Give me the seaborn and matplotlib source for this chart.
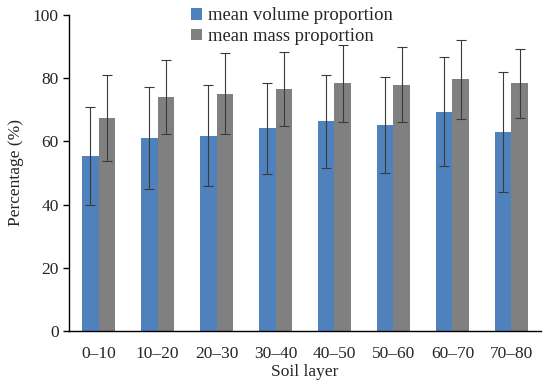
import numpy as np
import pandas as pd
import seaborn as sns
import matplotlib.pyplot as plt

# soil layers and the two proportions (mean and sd, %)
layers = ['0–10', '10–20', '20–30', '30–40', '40–50', '50–60', '60–70', '70–80']
vol_mean = [55.4, 61.1, 61.8, 64.1, 66.4, 65.2, 69.4, 63.1]
vol_sd = [15.5, 16.2, 15.9, 14.4, 14.7, 15.3, 17.2, 19.0]
mass_mean = [67.4, 74.1, 75.1, 76.6, 78.4, 78.0, 79.6, 78.4]
mass_sd = [13.5, 11.8, 12.8, 11.7, 12.2, 11.8, 12.6, 10.9]
series = ['mean volume proportion', 'mean mass proportion']
colors = ['#4F81BD', '#808080']

df = pd.DataFrame({
    'layer': layers * 2,
    'value': vol_mean + mass_mean,
    'sd': vol_sd + mass_sd,
    'series': [series[0]] * len(layers) + [series[1]] * len(layers),
})

sns.set_style('white')
plt.rcParams['font.family'] = ['Liberation Serif', 'DejaVu Serif']

fig = plt.figure(figsize=(5.5, 3.91), dpi=100)
ax = fig.add_axes([0.1255, 0.1535, 0.8581, 0.8081])

sns.barplot(data=df, x='layer', y='value', hue='series', palette=colors,
            width=0.57, errorbar=None, saturation=1, linewidth=0, ax=ax)

# error bars, one per bar, placed at the bar centres
for cont, sds in zip(ax.containers, [vol_sd, mass_sd]):
    xs = [p.get_x() + p.get_width() / 2 for p in cont.patches]
    ys = [p.get_height() for p in cont.patches]
    ax.errorbar(xs, ys, yerr=sds, fmt='none', ecolor='#3a3a3a',
                elinewidth=0.8, capsize=3.5, capthick=0.8)

ax.set_xlim(-0.5, len(layers) - 0.5)
ax.set_ylim(0, 100)
ax.set_yticks([0, 20, 40, 60, 80, 100])
ax.set_xticks(np.arange(-0.5, len(layers), 1), minor=True)
ax.tick_params(axis='x', which='major', length=0, labelsize=12.5, pad=11)
ax.tick_params(axis='x', which='minor', direction='in', length=4, width=1, color='black')
ax.tick_params(axis='y', direction='out', length=4, width=1, color='black',
               labelsize=12.5, left=True)

for s in ['top', 'right']:
    ax.spines[s].set_visible(False)
for s in ['left', 'bottom']:
    ax.spines[s].set_color('black')
    ax.spines[s].set_linewidth(1)

ax.set_xlabel('Soil layer', fontsize=12.5, labelpad=1)
ax.set_ylabel('Percentage (%)', fontsize=12.5, labelpad=6)

ax.legend(loc='upper left', bbox_to_anchor=(0.33, 1.005), bbox_transform=fig.transFigure,
          frameon=False, fontsize=13.4, handlelength=0.6, handleheight=0.6,
          handletextpad=0.3, labelspacing=0.2, borderaxespad=0.1)

fig.savefig('out.png', dpi=100)
